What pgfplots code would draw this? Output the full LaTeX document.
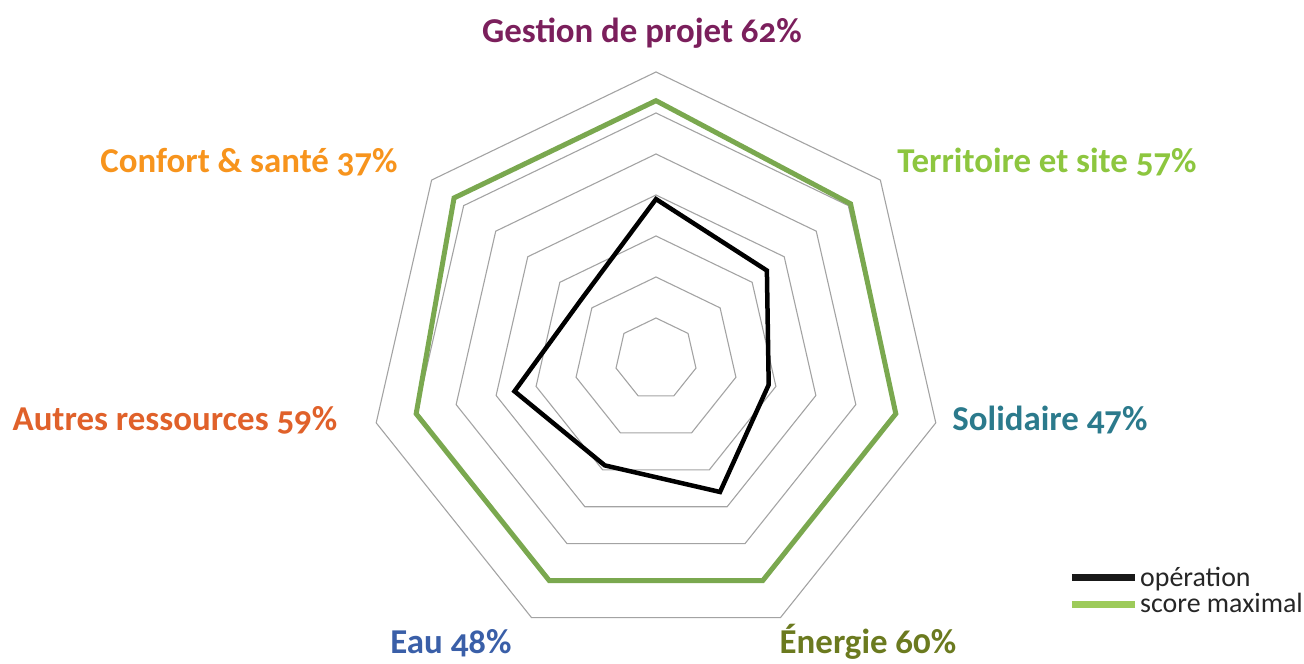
\documentclass[border=0pt]{standalone}
\usepackage{fontspec}
\setmainfont{Carlito}[Numbers=OldStyle]
\usepackage{pgfplots}
\usepackage{pgfplotstable}
\pgfplotsset{compat=1.18}

\definecolor{cGestion}{HTML}{7B1F5C}
\definecolor{cTerr}{HTML}{8DC63F}
\definecolor{cSol}{HTML}{2B7A8C}
\definecolor{cEner}{HTML}{6B7A1F}
\definecolor{cEau}{HTML}{3A5FA8}
\definecolor{cAutres}{HTML}{E0612A}
\definecolor{cConf}{HTML}{F7941D}
\definecolor{gridc}{HTML}{A3A3A3}
\definecolor{maxc}{HTML}{7AA84F}
\definecolor{maxleg}{HTML}{9DCB5A}

% angle (deg), operation score, maximal score (grid unit = 1 ring)
\pgfplotstableread{
a ope max
90 3.90 6.30
38.5714 3.46 6.07
347.1429 2.82 6.00
295.7143 3.60 6.00
244.2857 2.88 6.00
192.8571 3.54 6.00
141.4286 2.33 6.30
90 3.90 6.30
38.5714 3.46 6.07
}\radar

\begin{document}
\begin{tikzpicture}
\begin{axis}[at={(0,0)}, anchor=south west, scale only axis,
  width=1304bp, height=664bp,
  xmin=-16, xmax=15.8049, ymin=-7.4390, ymax=8.7561,
  hide axis, clip=false]
\pgfplotsinvokeforeach{1,...,7}{
  \addplot[gridc, line width=1.1bp, no marks, line join=miter]
    table[x expr={#1*cos(\thisrow{a})}, y expr={#1*sin(\thisrow{a})}] {\radar};
}
\addplot[maxc, line width=5bp, no marks, line join=miter]
  table[x expr={\thisrow{max}*cos(\thisrow{a})}, y expr={\thisrow{max}*sin(\thisrow{a})}] {\radar};
\addplot[black, line width=4.5bp, no marks, line join=miter]
  table[x expr={\thisrow{ope}*cos(\thisrow{a})}, y expr={\thisrow{ope}*sin(\thisrow{a})}] {\radar};

\begin{scope}[every node/.style={anchor=base, font=\fontsize{35}{40}\selectfont\bfseries, inner sep=0pt}]
\node[text=cGestion] at (axis cs:-0.341,7.707) {Gestion de projet 62\%};
\node[text=cTerr] at (axis cs:9.537,4.537) {Territoire et site 57\%};
\node[text=cSol] at (axis cs:9.610,-1.756) {Solidaire 47\%};
\node[text=cEner] at (axis cs:5.171,-7.175) {Énergie 60\%};
\node[text=cEau] at (axis cs:-5.0,-7.175) {Eau 48\%};
\node[text=cAutres] at (axis cs:-11.732,-1.756) {Autres ressources 59\%};
\node[text=cConf] at (axis cs:-9.927,4.537) {Confort \& santé 37\%};
\end{scope}

\draw[black!90, line width=7bp] (axis cs:10.146,-5.341) -- (axis cs:11.683,-5.341);
\draw[maxleg, line width=7bp] (axis cs:10.146,-6.0) -- (axis cs:11.683,-6.0);
\node[anchor=base west, inner sep=0pt, font=\fontsize{28}{32}\selectfont, text=black!85] at (axis cs:11.805,-5.537) {opération};
\node[anchor=base west, inner sep=0pt, font=\fontsize{28}{32}\selectfont, text=black!85] at (axis cs:11.805,-6.171) {score maximal};
\end{axis}
\pgfresetboundingbox
\path (0,0) rectangle (1304bp,664bp);
\end{tikzpicture}
\end{document}
